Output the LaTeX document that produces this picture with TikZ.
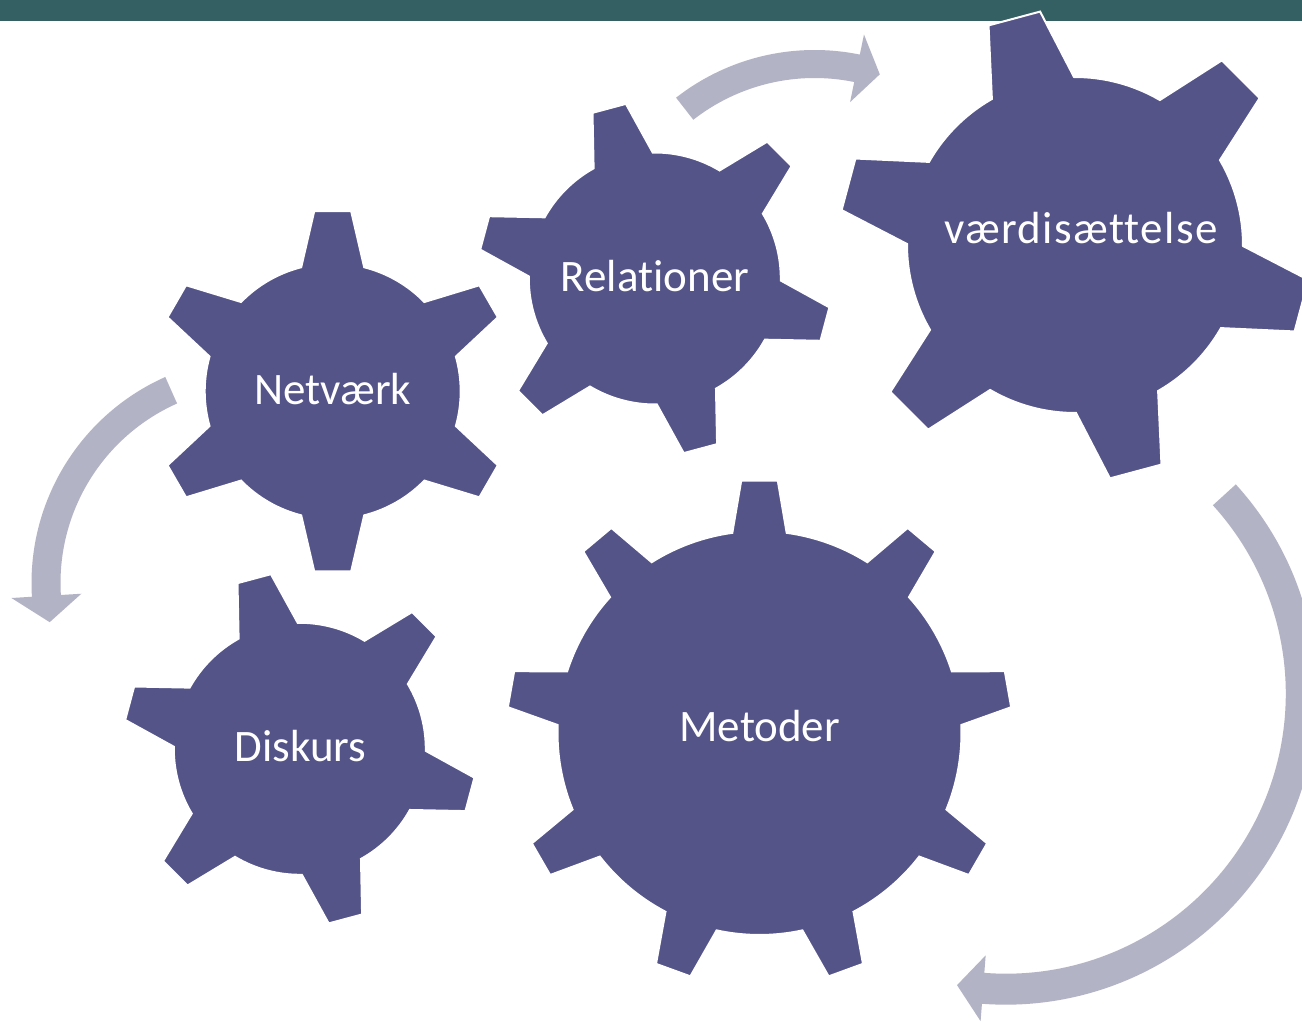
\documentclass[tikz,border=0pt]{standalone}
\usepackage{fontspec}
\setmainfont{Carlito}[Ligatures=CommonOff]
\definecolor{gearc}{RGB}{84,84,137}
\definecolor{arrc}{RGB}{179,179,198}
\definecolor{barc}{RGB}{52,95,99}
\tikzset{
  gearfill/.style={fill=gearc, draw=white, line width=2pt, line join=miter},
  arrowfill/.style={fill=arrc},
  geartext/.style={text=white, font=\fontsize{45}{54}\selectfont, inner sep=0pt, anchor=base}
}
% #1 cx, #2 cy, #3 teeth, #4 first angle, #5 outer R, #6 body r, #7 tip half-width, #8 base half-width
\newcommand\cog[8]{%
  \pgfmathsetmacro\cogB{asin(#8/#6)}%
  \pgfmathsetmacro\cogG{asin(#7/#5)}%
  \pgfmathsetmacro\cogD{360/#3}%
  \pgfmathtruncatemacro\cogN{#3-1}%
  \begin{scope}[shift={(#1,#2)}]
    \filldraw[gearfill] ({#4-\cogB}:#6pt)
      \foreach \k in {0,...,\cogN}{
        -- ({#4+\k*\cogD-\cogG}:#5pt) -- ({#4+\k*\cogD+\cogG}:#5pt) -- ({#4+\k*\cogD+\cogB}:#6pt)
        arc[start angle={#4+\k*\cogD+\cogB}, end angle={#4+(\k+1)*\cogD-\cogB}, radius=#6pt]
      } -- cycle;
  \end{scope}}
% #1 cx, #2 cy, #3 mid radius, #4 half shaft width, #5 tail angle, #6 head base angle, #7 tip angle, #8 head half-width
\newcommand\carrow[8]{%
  \pgfmathsetmacro\aro{#3+#4}\pgfmathsetmacro\ari{#3-#4}%
  \pgfmathsetmacro\aho{#3+#8}\pgfmathsetmacro\ahi{#3-#8}%
  \begin{scope}[shift={(#1,#2)}]
    \fill[arrowfill] ({#5}:\aro pt) arc[start angle=#5, end angle=#6, radius=\aro pt]
      -- ({#6}:\aho pt) -- ({#7}:#3pt) -- ({#6}:\ahi pt) -- ({#6}:\ari pt)
      arc[start angle=#6, end angle=#5, radius=\ari pt] -- cycle;
  \end{scope}}
\begin{document}
\begin{tikzpicture}[x=1pt,y=1pt]
  \useasboundingbox (0,0) rectangle (1302,1021);
  \clip (0,0) rectangle (1302,1021);
  \fill[white] (0,0) rectangle (1302,1021);
  % top bar
  \fill[barc] (0,999.5) rectangle (1302,1021);
  % arrows
  \carrow{814.6}{746}{211}{14}{128}{78.4}{72}{34.5}
  \carrow{257}{438}{211}{14.5}{114}{183.5}{190.7}{35}
  \carrow{1005.8}{327.3}{295.5}{15.5}{42.3}{-94.4}{-99.5}{33}
  % gears
  \cog{332.7}{629.7}{6}{90}{181}{128}{18.5}{31.5}
  \cog{654.8}{742.5}{6}{105}{177}{126}{17.3}{30.6}
  \cog{299.8}{272.2}{6}{105}{177}{126}{17.3}{30.6}
  \cog{1075}{776}{6}{105}{236}{168}{26.7}{42.5}
  \cog{759.5}{288}{9}{90}{253}{202}{18.3}{27.2}
  % labels
  \node[geartext] (netv) at (332.8,616) {Netværk};
  \node[geartext] (rel) at (655,729.3) {Relationer};
  \node[geartext] (vaerdi) at (1080.8,777) {\addfontfeatures{LetterSpace=3}værdisættelse};
  \node[geartext] (disk) at (300.5,259.3) {Diskurs};
  \node[geartext] (met) at (759.7,279.3) {Metoder};
\end{tikzpicture}
\end{document}
